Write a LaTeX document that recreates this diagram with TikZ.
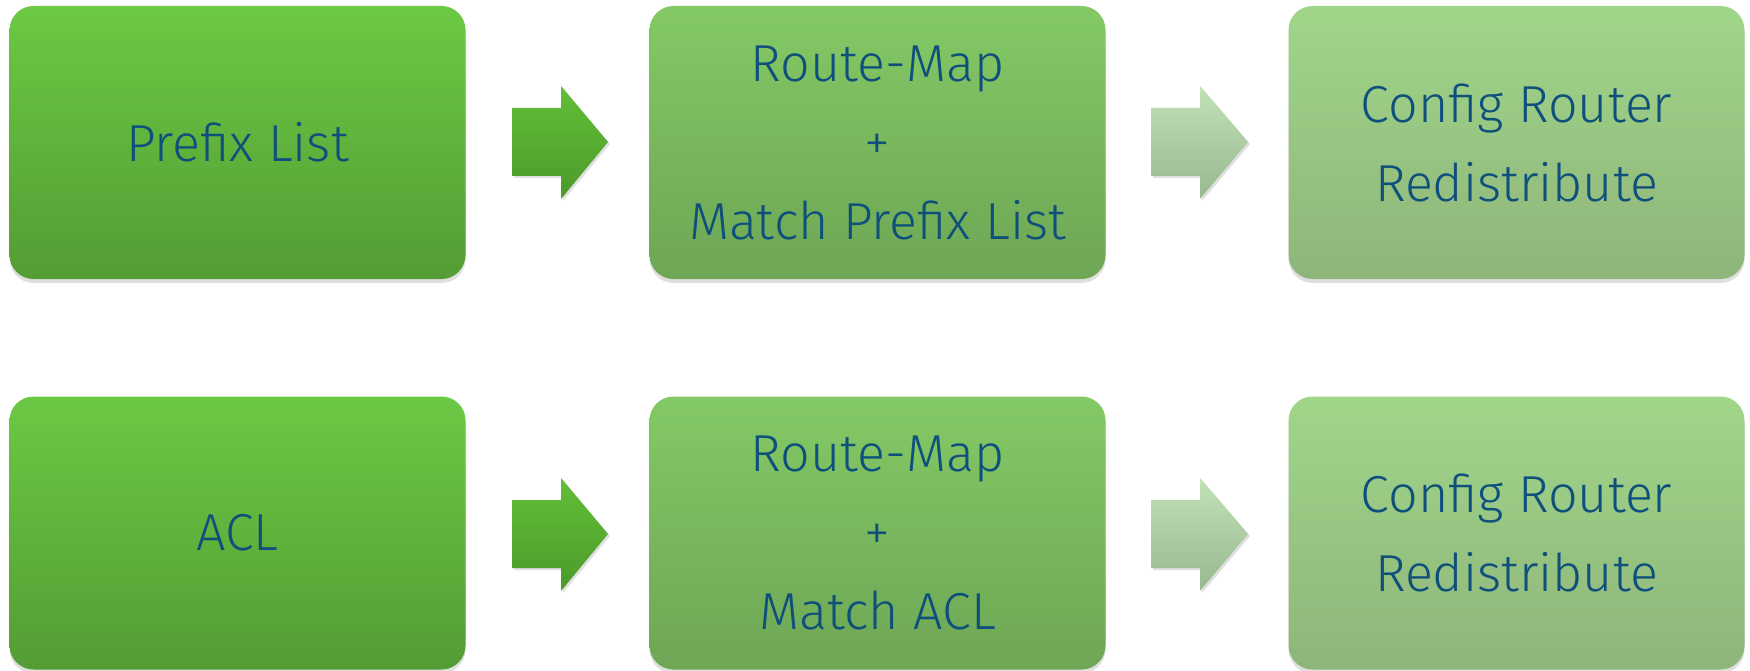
\documentclass[tikz,border=0pt]{standalone}
\usepackage{fontspec}
\setmainfont{Fira Sans Light}
\usetikzlibrary{shadows}
\definecolor{txt}{HTML}{0E4F7C}
\tikzset{
  stage/.style={rounded corners=24pt, minimum width=456pt, minimum height=273pt,
    draw=none, align=center, text=txt, font=\fontsize{52}{79}\selectfont,
    drop shadow={opacity=0.25, shadow xshift=0pt, shadow yshift=-4pt}},
  stageA/.style={stage, top color={rgb,255:red,108;green,201;blue,68}, bottom color={rgb,255:red,84;green,156;blue,52}},
  stageB/.style={stage, top color={rgb,255:red,131;green,201;blue,101}, bottom color={rgb,255:red,110;green,166;blue,85}},
  stageC/.style={stage, top color={rgb,255:red,160;green,214;blue,138}, bottom color={rgb,255:red,143;green,181;blue,122}},
  darrow/.style={top color={rgb,255:red,98;green,190;blue,56}, bottom color={rgb,255:red,76;green,154;blue,42},
    drop shadow={opacity=0.25, shadow xshift=2pt, shadow yshift=-2pt}},
  larrow/.style={top color={rgb,255:red,194;green,225;blue,185}, bottom color={rgb,255:red,152;green,184;blue,143},
    drop shadow={opacity=0.25, shadow xshift=2pt, shadow yshift=-2pt}}
}
\newcommand{\blockarrow}[4]{% style, left x, centre y, tip x
  \path[#1] (#2,#3-34) -- (#2+49,#3-34) -- (#2+49,#3-56) -- (#4,#3) -- (#2+49,#3+57)
    -- (#2+49,#3+34) -- (#2,#3+34) -- cycle;}
\begin{document}
\begin{tikzpicture}[x=1pt,y=-1pt]
\useasboundingbox (0,0) rectangle (1750,671);
% top row
\node[stageA] (pl)  at (237.5,142.5) {Prefix List};
\node[stageB] (rm1) at (877.5,142.5) {Route-Map\\+\\Match Prefix List};
\node[stageC] (cr1) at (1516.5,142.5) {Config Router\\Redistribute};
% bottom row
\node[stageA] (acl) at (237.5,533) {ACL};
\node[stageB] (rm2) at (877.5,533) {Route-Map\\+\\Match ACL};
\node[stageC] (cr2) at (1516.5,533) {Config Router\\Redistribute};
% block arrows between the stages
\blockarrow{darrow}{512}{142}{608}
\blockarrow{larrow}{1151}{142}{1248}
\blockarrow{darrow}{512}{534}{608}
\blockarrow{larrow}{1151}{534}{1248}
\end{tikzpicture}
\end{document}
